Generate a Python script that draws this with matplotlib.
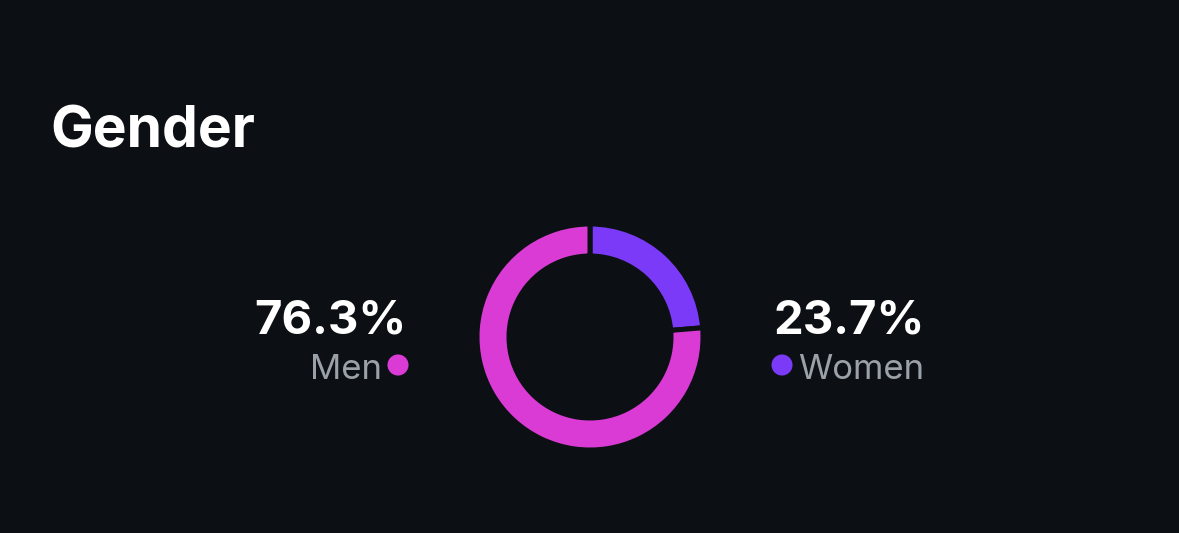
import matplotlib
matplotlib.use("Agg")
import matplotlib.pyplot as plt

W, H = 1179, 533
bg = "#0c1014"

labels = ["Women", "Men"]
shares = [23.7, 76.3]
colors = ["#7b3af7", "#d93bd4"]
pct_text = ["23.7%", "76.3%"]

plt.rcParams['font.family'] = ['Inter', 'DejaVu Sans']

fig = plt.figure(figsize=(W / 100, H / 100), dpi=100, facecolor=bg)
ax = fig.add_axes([0, 0, 1, 1])
ax.set_facecolor(bg)

# donut, women from 12 o'clock going clockwise
# (radius/width padded because the bg-coloured edge eats into the ring)
cx, cy = 590, H - 337
ax.pie(shares, colors=colors, startangle=90, counterclock=False,
       center=(cx, cy), radius=113,
       wedgeprops=dict(width=32, edgecolor=bg, linewidth=3.6))
ax.set_xlim(0, W)
ax.set_ylim(0, H)
ax.set_aspect("equal")
ax.axis("off")

ax.text(50, H - 147, "Gender", color="white", fontsize=41,
        fontweight="bold", ha="left", va="baseline")

# left side: men
ax.text(406, H - 333, pct_text[1], color="white", fontsize=34,
        fontweight="bold", ha="right", va="baseline")
ax.text(382, H - 379, labels[1], color="#9ba1a8", fontsize=25,
        ha="right", va="baseline")
ax.scatter([398], [H - 365], s=230, color=colors[1], edgecolors="none")

# right side: women
ax.text(774, H - 333, pct_text[0], color="white", fontsize=34,
        fontweight="bold", ha="left", va="baseline")
ax.text(798, H - 379, labels[0], color="#9ba1a8", fontsize=25,
        ha="left", va="baseline")
ax.scatter([782], [H - 365], s=230, color=colors[0], edgecolors="none")

fig.savefig("out.png", dpi=100, facecolor=bg)
